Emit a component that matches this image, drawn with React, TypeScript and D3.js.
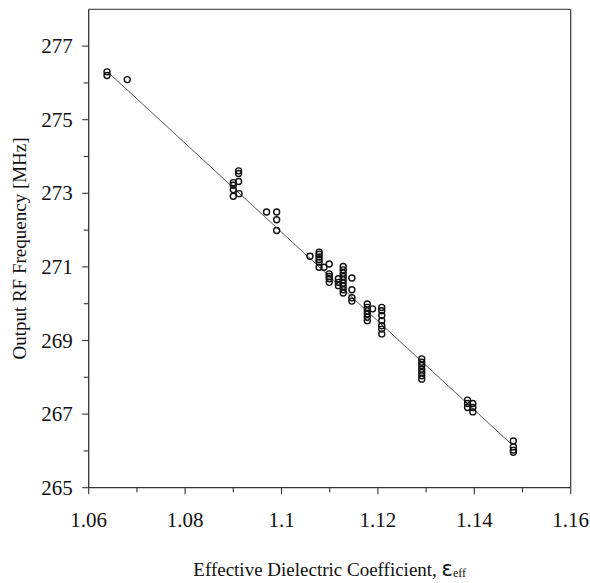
import React from "react";
import * as d3 from "d3";

// ---- data ----
const pointX: number[] = [
  1.0638, 1.0638, 1.068,
  1.09, 1.09, 1.09, 1.09,
  1.0911, 1.0911, 1.0911, 1.0912,
  1.0969,
  1.099, 1.099, 1.099,
  1.1059,
  1.1078, 1.1078, 1.1078, 1.1078, 1.1078, 1.1078,
  1.1088,
  1.1099, 1.1099, 1.1099, 1.1099, 1.1099,
  1.1118, 1.1118, 1.1118,
  1.1128, 1.1128, 1.1128, 1.1128, 1.1128, 1.1128, 1.1128, 1.1128, 1.1128,
  1.1146, 1.1146, 1.1146, 1.1146,
  1.1178, 1.1178, 1.1178, 1.1178, 1.1178, 1.1178,
  1.1189,
  1.1208, 1.1208, 1.1208, 1.1208, 1.1208, 1.1208, 1.1208,
  1.1291, 1.1291, 1.1291, 1.1291, 1.1291, 1.1291, 1.1291,
  1.1386, 1.1386, 1.1386,
  1.1397, 1.1397, 1.1397,
  1.1481, 1.1481, 1.1481, 1.1481,
];
const pointY: number[] = [
  276.3, 276.2, 276.09,
  273.29, 273.22, 273.1, 272.92,
  273.61, 273.54, 273.32, 272.99,
  272.49,
  272.49, 272.28, 271.99,
  271.29,
  271.4, 271.34, 271.27, 271.2, 271.13, 270.99,
  270.99,
  271.08, 270.81, 270.74, 270.68, 270.58,
  270.68, 270.58, 270.49,
  271.01, 270.92, 270.83, 270.74, 270.65, 270.56, 270.47, 270.38, 270.29,
  270.7, 270.38, 270.16, 270.07,
  269.99, 269.9, 269.81, 269.72, 269.63, 269.54,
  269.86,
  269.9, 269.81, 269.68, 269.54, 269.4, 269.31, 269.18,
  268.5, 268.41, 268.32, 268.22, 268.13, 268.04, 267.95,
  267.38, 267.29, 267.18,
  267.29, 267.18, 267.06,
  266.27, 266.11, 266.02, 265.96,
];
const fitX: number[] = [1.0641, 1.1478];
const fitY: number[] = [276.28, 266.17];

const xMajorTicks: number[] = [1.06, 1.08, 1.1, 1.12, 1.14, 1.16];
const xTickLabels: string[] = ["1.06", "1.08", "1.1", "1.12", "1.14", "1.16"];
const xMinorTicks: number[] = [1.07, 1.09, 1.11, 1.13, 1.15];
const yMajorTicks: number[] = [265, 267, 269, 271, 273, 275, 277];
const yTickLabels: string[] = ["265", "267", "269", "271", "273", "275", "277"];
const yMinorTicks: number[] = [266, 268, 270, 272, 274, 276];

const xTitle = "Effective Dielectric Coefficient, ";
const yTitle = "Output RF Frequency [MHz]";

export default function App() {
  const W = 590;
  const H = 583;
  const left = 88.7;
  const right = 570.7;
  const top = 9.3;
  const bottom = 487.7;
  const x = d3.scaleLinear().domain([1.06, 1.16]).range([left, right]);
  const y = d3.scaleLinear().domain([265, 278]).range([bottom, top]);
  const font = "'Liberation Serif', 'Times New Roman', serif";
  const line = d3
    .line<number>()
    .x((_, i) => x(fitX[i]))
    .y((_, i) => y(fitY[i]));

  return (
    <svg
      width={W}
      height={H}
      style={{ position: "fixed", left: 0, top: 0, background: "#fff" }}
      fontFamily={font}
    >
      <rect x={0} y={0} width={W} height={H} fill="#fff" />
      {/* frame */}
      <line x1={left} x2={right} y1={top} y2={top} stroke="#555" strokeWidth={1.2} />
      <line x1={right} x2={right} y1={top} y2={bottom} stroke="#333" strokeWidth={1.2} />
      <line x1={left} x2={left} y1={top} y2={bottom} stroke="#333" strokeWidth={1.3} />
      <line x1={left} x2={right} y1={bottom} y2={bottom} stroke="#333" strokeWidth={1.3} />

      {/* y ticks */}
      {yMajorTicks.map((v, i) => (
        <g key={"ym" + v}>
          <line x1={left - 6.5} x2={left} y1={y(v)} y2={y(v)} stroke="#333" strokeWidth={1.1} />
          <text
            x={left - 16}
            y={y(v)}
            dy="0.34em"
            textAnchor="end"
            fontSize={21}
            fill="#111"
          >
            {yTickLabels[i]}
          </text>
        </g>
      ))}
      {yMinorTicks.map((v) => (
        <line key={"yn" + v} x1={left - 5} x2={left} y1={y(v)} y2={y(v)} stroke="#333" strokeWidth={1.1} />
      ))}

      {/* x ticks */}
      {xMajorTicks.map((v, i) => (
        <g key={"xm" + v}>
          <line x1={x(v)} x2={x(v)} y1={bottom} y2={bottom + 6.5} stroke="#333" strokeWidth={1.1} />
          <text x={x(v)} y={527} textAnchor="middle" fontSize={21} fill="#111">
            {xTickLabels[i]}
          </text>
        </g>
      ))}
      {xMinorTicks.map((v) => (
        <line key={"xn" + v} x1={x(v)} x2={x(v)} y1={bottom} y2={bottom + 4.5} stroke="#333" strokeWidth={1.1} />
      ))}

      {/* fit line */}
      <path d={line(fitX) || ""} fill="none" stroke="#444" strokeWidth={0.9} />

      {/* points */}
      {pointX.map((v, i) => (
        <circle
          key={"p" + i}
          cx={x(v)}
          cy={y(pointY[i])}
          r={3}
          fill="none"
          stroke="#111"
          strokeWidth={1.4}
        />
      ))}

      {/* axis titles */}
      <text x={(left + right) / 2} y={576} textAnchor="middle" fontSize={19} fill="#111">
        {xTitle}
        <tspan fontSize={21} fontFamily="'DejaVu Sans', sans-serif">ε</tspan>
        <tspan fontSize={12} dy={1}>eff</tspan>
      </text>
      <text
        transform={`translate(26, ${(top + bottom) / 2}) rotate(-90)`}
        textAnchor="middle"
        fontSize={19}
        fill="#111"
      >
        {yTitle}
      </text>
    </svg>
  );
}
